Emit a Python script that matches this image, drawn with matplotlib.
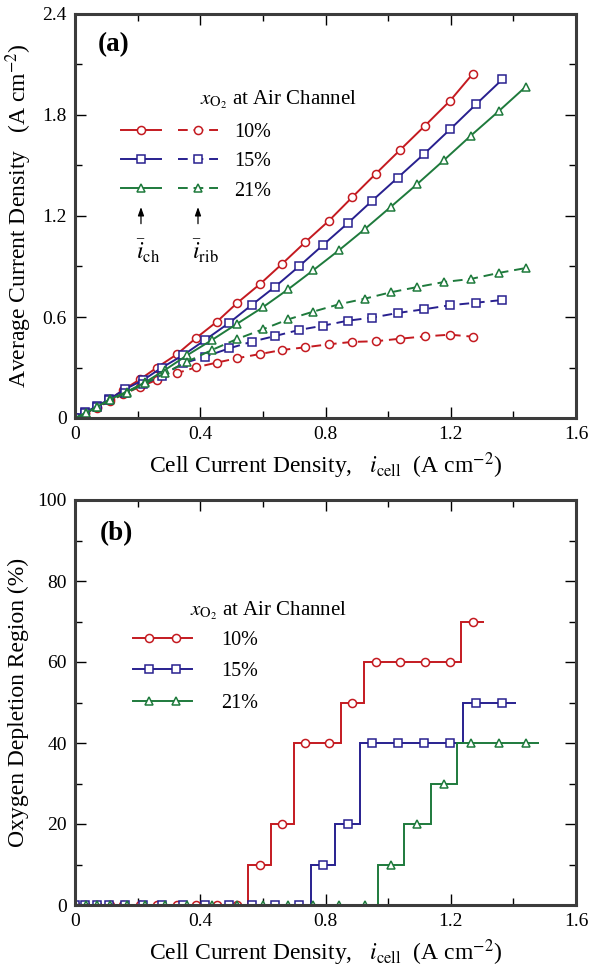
import numpy as np
import matplotlib
matplotlib.use("Agg")
import matplotlib.pyplot as plt
from matplotlib.lines import Line2D
from matplotlib.legend_handler import HandlerTuple, HandlerLine2D

plt.rcParams['font.family'] = ['Liberation Serif', 'DejaVu Serif']
plt.rcParams['mathtext.fontset'] = 'stix'

# ---------------- data ----------------
labels = ['10%', '15%', '21%']
colors = ['#c41a20', '#28208f', '#1e7a3c']
markers = ['o', 's', '^']

i_cell_10 = [0, 0.032, 0.069, 0.112, 0.153, 0.208, 0.261, 0.325, 0.386, 0.453, 0.517,
             0.591, 0.661, 0.735, 0.811, 0.885, 0.960, 1.038, 1.118, 1.198, 1.270]
i_ch_10 = [0, 0.028, 0.067, 0.111, 0.166, 0.230, 0.299, 0.378, 0.474, 0.572, 0.682,
           0.796, 0.915, 1.044, 1.172, 1.311, 1.450, 1.592, 1.737, 1.885, 2.044]
i_rib_10 = [0, 0.028, 0.062, 0.100, 0.140, 0.186, 0.226, 0.266, 0.301, 0.329, 0.355,
            0.380, 0.404, 0.420, 0.438, 0.452, 0.456, 0.471, 0.485, 0.495, 0.483]
odr_10 = [0, 0, 0, 0, 0, 0, 0, 0, 0, 0, 0, 10, 20, 40, 40, 50, 60, 60, 60, 60, 70]

i_cell_15 = [0, 0.032, 0.071, 0.110, 0.160, 0.218, 0.277, 0.346, 0.415, 0.493, 0.564,
             0.639, 0.715, 0.791, 0.871, 0.948, 1.031, 1.115, 1.198, 1.281, 1.365]
i_ch_15 = [0, 0.034, 0.071, 0.113, 0.171, 0.226, 0.299, 0.374, 0.463, 0.566, 0.671,
           0.780, 0.900, 1.026, 1.157, 1.289, 1.428, 1.569, 1.715, 1.864, 2.012]
i_rib_15 = [0, 0.030, 0.066, 0.104, 0.150, 0.200, 0.251, 0.325, 0.364, 0.414, 0.453,
            0.487, 0.523, 0.548, 0.578, 0.596, 0.624, 0.646, 0.670, 0.685, 0.701]
odr_15 = [0, 0, 0, 0, 0, 0, 0, 0, 0, 0, 0, 0, 0, 10, 20, 40, 40, 40, 40, 50, 50]

i_cell_21 = [0, 0.034, 0.071, 0.112, 0.165, 0.224, 0.287, 0.359, 0.437, 0.516, 0.600,
             0.681, 0.761, 0.844, 0.926, 1.009, 1.093, 1.179, 1.264, 1.354, 1.440]
i_ch_21 = [0, 0.028, 0.067, 0.111, 0.156, 0.212, 0.285, 0.374, 0.463, 0.558, 0.658,
           0.765, 0.878, 0.998, 1.123, 1.255, 1.390, 1.533, 1.677, 1.824, 1.969]
i_rib_21 = [0, 0.030, 0.066, 0.106, 0.150, 0.205, 0.266, 0.335, 0.404, 0.468, 0.527,
            0.586, 0.632, 0.676, 0.709, 0.747, 0.778, 0.808, 0.826, 0.862, 0.891]
odr_21 = [0, 0, 0, 0, 0, 0, 0, 0, 0, 0, 0, 0, 0, 0, 0, 10, 20, 30, 40, 40, 40]

x_ticks = [0, 0.4, 0.8, 1.2, 1.6]
x_tick_labels = ['0', '0.4', '0.8', '1.2', '1.6']
ya_ticks = [0, 0.6, 1.2, 1.8, 2.4]
ya_tick_labels = ['0', '0.6', '1.2', '1.8', '2.4']
yb_ticks = [0, 20, 40, 60, 80, 100]
yb_tick_labels = ['0', '20', '40', '60', '80', '100']

cells = [i_cell_10, i_cell_15, i_cell_21]
chs = [i_ch_10, i_ch_15, i_ch_21]
ribs = [i_rib_10, i_rib_15, i_rib_21]
odrs = [odr_10, odr_15, odr_21]

# ---------------- figure ----------------
fig = plt.figure(figsize=(5.92, 9.73), dpi=100)
ax1 = fig.add_axes([75/592, 1-418/973, 501/592, 404/973])
ax2 = fig.add_axes([75/592, 1-905/973, 501/592, 405/973])

FS_TICK = 14
FS_LAB = 17
FS_LEG = 14.5
ms = {'o': 5.8, 's': 5.6, '^': 6.2}
MEW = 1.1
LW = 1.4


def style_axes(ax):
    for s in ax.spines.values():
        s.set_color('#3c3c3c')
        s.set_linewidth(2.2)
    ax.tick_params(which='both', direction='in', top=True, right=True,
                   color='black', width=1.0, labelsize=FS_TICK, pad=6)
    ax.tick_params(which='major', length=8)
    ax.tick_params(which='minor', length=5)
    ax.set_xlim(0, 1.6)
    ax.set_xticks(x_ticks)
    ax.set_xticklabels(x_tick_labels)
    ax.set_xticks(np.arange(0.2, 1.6, 0.4), minor=True)


# ---- panel (a) ----
sol_handles, dash_handles = [], []
for x, ych, yrib, c, m in zip(cells, chs, ribs, colors, markers):
    l1, = ax1.plot(x, ych, '-', color=c, lw=LW, marker=m, ms=ms[m],
                   mfc='white', mec=c, mew=MEW)
    l2, = ax1.plot(x, yrib, '--', color=c, lw=LW, marker=m, ms=ms[m],
                   mfc='white', mec=c, mew=MEW, dashes=(5, 3))
    sol_handles.append(l1)
    dash_handles.append(l2)

style_axes(ax1)
ax1.set_ylim(0, 2.4)
ax1.set_yticks(ya_ticks)
ax1.set_yticklabels(ya_tick_labels)
ax1.set_yticks(np.arange(0.3, 2.4, 0.6), minor=True)
ax1.set_xlabel(r'Cell Current Density,   $i_{\mathrm{cell}}$  (A cm$^{-2}$)',
               fontsize=FS_LAB, labelpad=5)
ax1.set_ylabel(r'Average Current Density   (A cm$^{-2}$)', fontsize=FS_LAB,
               labelpad=6)

ax1.legend([(s, d) for s, d in zip(sol_handles, dash_handles)], labels,
           handler_map={tuple: HandlerTuple(ndivide=None, pad=0.85)},
           loc='upper left', bbox_to_anchor=(0.092, 0.730),
           frameon=False, fontsize=FS_LEG, numpoints=1,
           handlelength=4.8, handletextpad=0.8, labelspacing=0.5,
           borderpad=0, borderaxespad=0)
ax1.text(0.249, 0.787, r'$x_{\mathrm{O_2}}$ at Air Channel', transform=ax1.transAxes,
         fontsize=15, ha='left', va='center')
for xf, lab in [(0.1317, r'$\bar{i}_{\mathrm{ch}}$'), (0.2455, r'$\bar{i}_{\mathrm{rib}}$')]:
    ax1.annotate('', xy=(xf, 0.522), xytext=(xf, 0.481), xycoords='axes fraction',
                 arrowprops=dict(arrowstyle='-|>,head_length=0.5,head_width=0.18',
                                 color='black', lw=0.9, shrinkA=0, shrinkB=0))
    ax1.text(xf + 0.014, 0.413, lab, transform=ax1.transAxes, fontsize=17,
             ha='center', va='center')
ax1.text(0.046, 0.924, '(a)', transform=ax1.transAxes, fontsize=19.5,
         fontweight='bold', ha='left', va='center')

# ---- panel (b) ----
leg_handles = []
hmap = {tuple: HandlerTuple(ndivide=1, pad=0)}
for x, v, c, m in zip(cells, odrs, colors, markers):
    x = np.asarray(x, float)
    mids = (x[:-1] + x[1:]) / 2
    edges = np.concatenate([[x[0]], mids, [x[-1] + (x[-1] - x[-2]) / 2]])
    ax2.stairs(v, edges, baseline=None, color=c, lw=LW)
    ax2.plot(x, v, linestyle='none', marker=m, ms=ms[m], mfc='white', mec=c, mew=MEW)
    hl = Line2D([], [], color=c, lw=LW)
    hm = Line2D([], [], linestyle='none', marker=m, ms=ms[m], mfc='white', mec=c,
                mew=MEW)
    hmap[hl] = HandlerLine2D(numpoints=1)
    hmap[hm] = HandlerLine2D(numpoints=2, marker_pad=0.8)
    leg_handles.append((hl, hm))

style_axes(ax2)
ax2.set_ylim(0, 100)
ax2.set_yticks(yb_ticks)
ax2.set_yticklabels(yb_tick_labels)
ax2.set_yticks(np.arange(10, 100, 20), minor=True)
ax2.set_xlabel(r'Cell Current Density,   $i_{\mathrm{cell}}$  (A cm$^{-2}$)',
               fontsize=FS_LAB, labelpad=5)
ax2.set_ylabel('Oxygen Depletion Region (%)', fontsize=FS_LAB, labelpad=6)

ax2.legend(leg_handles, labels, handler_map=hmap,
           loc='upper left', bbox_to_anchor=(0.115, 0.677), frameon=False,
           fontsize=FS_LEG, handlelength=2.95, handletextpad=1.45,
           labelspacing=0.62, borderpad=0, borderaxespad=0)
ax2.text(0.23, 0.728, r'$x_{\mathrm{O_2}}$ at Air Channel', transform=ax2.transAxes,
         fontsize=15, ha='left', va='center')
ax2.text(0.05, 0.918, '(b)', transform=ax2.transAxes, fontsize=19.5,
         fontweight='bold', ha='left', va='center')

fig.savefig('out.png', dpi=100)
